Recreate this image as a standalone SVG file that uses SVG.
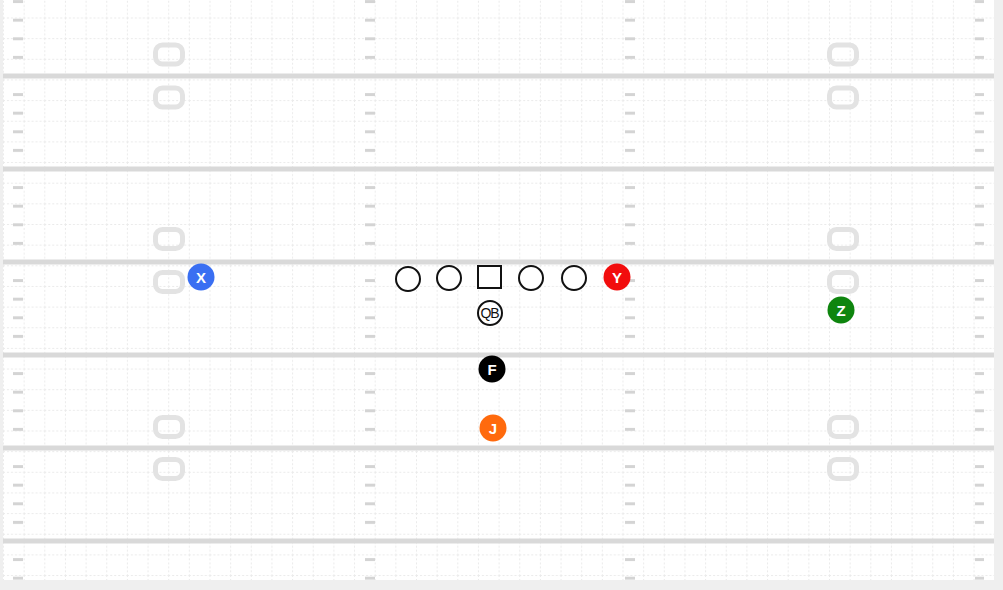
<svg xmlns="http://www.w3.org/2000/svg" width="1003" height="590" viewBox="0 0 1003 590">
<defs>
<style>
.yard{stroke:#d9d9d9;stroke-width:5;}
.num{fill:none;stroke:#e3e3e3;stroke-width:5;}
.ol{fill:#fff;stroke:#111;stroke-width:2;}
.lbl{font-family:"Liberation Sans",Arial,sans-serif;font-size:15px;font-weight:bold;fill:#fff;text-anchor:middle;dominant-baseline:central;}
.qb{font-family:"Liberation Sans",Arial,sans-serif;font-size:14px;fill:#111;text-anchor:middle;dominant-baseline:central;letter-spacing:-1px;}
</style>
<pattern id="grid" x="3" y="17.5" width="20.65" height="20.65" patternUnits="userSpaceOnUse">
<path d="M0 0.5H20.65M0.5 0V20.65" stroke="#eaeaea" stroke-width="1" stroke-dasharray="2 2" fill="none"/>
</pattern>
<pattern id="hash" x="0" y="74.5" width="1003" height="18.6" patternUnits="userSpaceOnUse">
<rect x="13" y="0" width="10" height="3" fill="#d4d4d4"/>
<rect x="365" y="0" width="10" height="3" fill="#d4d4d4"/>
<rect x="625" y="0" width="10" height="3" fill="#d4d4d4"/>
<rect x="975" y="0" width="9" height="3" fill="#d4d4d4"/>
</pattern>
</defs>
<g id="field">
<rect x="0" y="0" width="1003" height="590" fill="#efefef"/>
<rect x="3" y="0" width="991" height="580" fill="#fff"/>
<rect x="3" y="0" width="991" height="580" fill="url(#grid)"/>
<rect x="3" y="0" width="991" height="580" fill="url(#hash)"/>
<line class="yard" x1="3" y1="76" x2="994" y2="76"/>
<line class="yard" x1="3" y1="169" x2="994" y2="169"/>
<line class="yard" x1="3" y1="262" x2="994" y2="262"/>
<line class="yard" x1="3" y1="355" x2="994" y2="355"/>
<line class="yard" x1="3" y1="448" x2="994" y2="448"/>
<line class="yard" x1="3" y1="541" x2="994" y2="541"/>
<rect class="num" x="155.5" y="45" width="27" height="19" rx="7"/>
<rect class="num" x="155.5" y="88" width="27" height="19" rx="7"/>
<rect class="num" x="155.5" y="229.5" width="27" height="19" rx="7"/>
<rect class="num" x="155.5" y="272.5" width="27" height="19" rx="7"/>
<rect class="num" x="155.5" y="417.5" width="27" height="19" rx="7"/>
<rect class="num" x="155.5" y="459.5" width="27" height="19" rx="7"/>
<rect class="num" x="829.5" y="45" width="27" height="19" rx="7"/>
<rect class="num" x="829.5" y="88" width="27" height="19" rx="7"/>
<rect class="num" x="829.5" y="229.5" width="27" height="19" rx="7"/>
<rect class="num" x="829.5" y="272.5" width="27" height="19" rx="7"/>
<rect class="num" x="829.5" y="417.5" width="27" height="19" rx="7"/>
<rect class="num" x="829.5" y="459.5" width="27" height="19" rx="7"/>
</g>
<g id="connectors"></g>
<g id="player-X"><circle cx="201" cy="277" r="13.5" fill="#3a6ff2"/><text class="lbl" x="201" y="277">X</text></g>
<g id="player-LT"><circle class="ol" cx="408" cy="279" r="12"/></g>
<g id="player-LG"><circle class="ol" cx="449" cy="278" r="12"/></g>
<g id="player-C"><rect class="ol" x="478" y="266" width="23" height="22"/></g>
<g id="player-RG"><circle class="ol" cx="531" cy="278" r="12"/></g>
<g id="player-RT"><circle class="ol" cx="574" cy="278" r="12"/></g>
<g id="player-Y"><circle cx="617" cy="277" r="13.5" fill="#f20d0d"/><text class="lbl" x="617" y="277">Y</text></g>
<g id="player-QB"><circle class="ol" cx="490" cy="313" r="12"/><text class="qb" x="489.5" y="313">QB</text></g>
<g id="player-F"><circle cx="492" cy="369" r="13.5" fill="#000"/><text class="lbl" x="492" y="369">F</text></g>
<g id="player-J"><circle cx="493" cy="428" r="13.5" fill="#ff6a0d"/><text class="lbl" x="493" y="428">J</text></g>
<g id="player-Z"><circle cx="841" cy="310" r="13.5" fill="#0e850e"/><text class="lbl" x="841" y="310">Z</text></g>
</svg>
